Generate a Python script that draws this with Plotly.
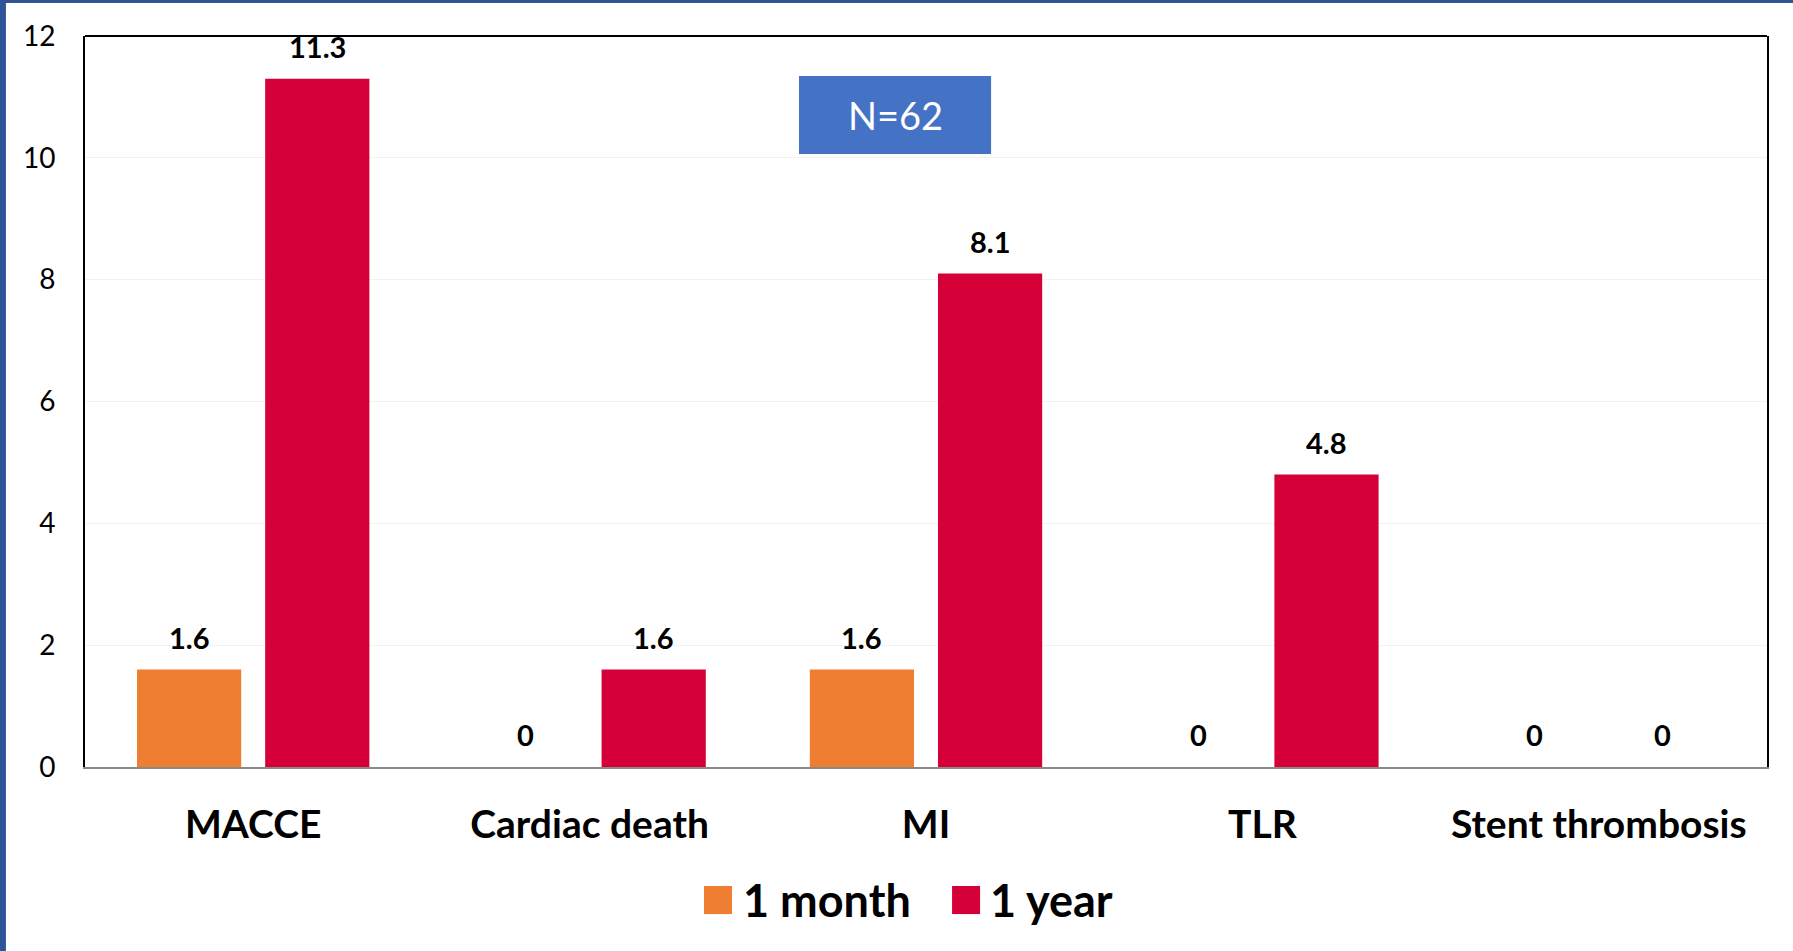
import plotly.graph_objects as go

categories = ["MACCE", "Cardiac death", "MI", "TLR", "Stent thrombosis"]
series_names = ["1 month", "1 year"]
month1 = [1.6, 0, 1.6, 0, 0]
year1 = [11.3, 1.6, 8.1, 4.8, 0]
y_ticks = [0, 2, 4, 6, 8, 10, 12]
sample_label = "N=62"

series_values = [month1, year1]
colors = ["#EF7D32", "#D40037"]
FONT = "Lato"
BARGAP = 0.238
GROUPGAP = 0.187

fig = go.Figure()
for name, vals, col in zip(series_names, series_values, colors):
    fig.add_bar(x=categories, y=vals, name=name, showlegend=False,
                marker=dict(color=col, line=dict(width=0)))

# data labels above bars
slot = (1 - BARGAP) / 2
offsets = [-slot / 2, slot / 2]
annotations = []
for off, vals in zip(offsets, series_values):
    for i, v in enumerate(vals):
        annotations.append(dict(x=i + off, y=v, xref="x", yref="y", text=f"{v:g}",
                                showarrow=False, xanchor="center", yanchor="bottom", yshift=13,
                                font=dict(family=FONT, size=29, color="black", weight="bold")))

# N box
annotations.append(dict(x=0.4816, y=0.892, xref="paper", yref="paper", text=sample_label,
                        showarrow=False, xanchor="center", yanchor="middle",
                        font=dict(family=FONT, size=38, color="white")))

# manual legend
leg_sq_x = [0.368, 0.5155]
leg_tx_x = [0.3900, 0.5371]
shapes = []
for name, col, sx, tx in zip(series_names, colors, leg_sq_x, leg_tx_x):
    shapes.append(dict(type="rect", xref="paper", yref="paper", x0=sx, x1=sx + 0.01665,
                       y0=-0.2012, y1=-0.1628, fillcolor=col, line=dict(width=0)))
    annotations.append(dict(x=tx, y=-0.182, xref="paper", yref="paper", text=name,
                            showarrow=False, xanchor="left", yanchor="middle",
                            font=dict(family=FONT, size=45, color="black", weight="bold")))

# N box rect
shapes.append(dict(type="rect", xref="paper", yref="paper", x0=0.4245, x1=0.5387,
                   y0=0.8386, y1=0.9453, fillcolor="#4472C4", line=dict(width=0), layer="above"))
# top frame line
shapes.append(dict(type="line", xref="paper", yref="paper", x0=0, x1=1, y0=1, y1=1,
                   line=dict(color="black", width=2)))
# slide border strips
shapes.append(dict(type="rect", xref="paper", yref="paper", x0=-0.0506, x1=-0.0470,
                   y0=-0.26, y1=1.06, fillcolor="#2F5597", line=dict(width=0)))
shapes.append(dict(type="rect", xref="paper", yref="paper", x0=-0.0506, x1=1.02,
                   y0=1.0451, y1=1.06, fillcolor="#2F5597", line=dict(width=0)))

fig.update_layout(
    width=1793, height=951,
    margin=dict(l=85, r=26, t=36, b=184),
    paper_bgcolor="white", plot_bgcolor="white",
    barmode="group", bargap=BARGAP, bargroupgap=GROUPGAP,
    font=dict(family=FONT, color="black"),
    annotations=annotations, shapes=shapes,
    xaxis=dict(showline=True, linecolor="#898989", linewidth=2, ticks="",
               tickfont=dict(family=FONT, size=39, color="black", weight="bold"),
               ticklabelstandoff=22, showgrid=False),
    yaxis=dict(range=[0, 12], tickvals=y_ticks, showline=True, linecolor="black", linewidth=2,
               mirror=True, ticks="", showgrid=True, gridcolor="#F2F2F2", gridwidth=1,
               zeroline=False, tickfont=dict(family=FONT, size=28, color="black"),
               ticklabelstandoff=22),
)

fig.write_html("out.html", config={"displayModeBar": False},
               post_script="document.body.style.margin='0px';")
